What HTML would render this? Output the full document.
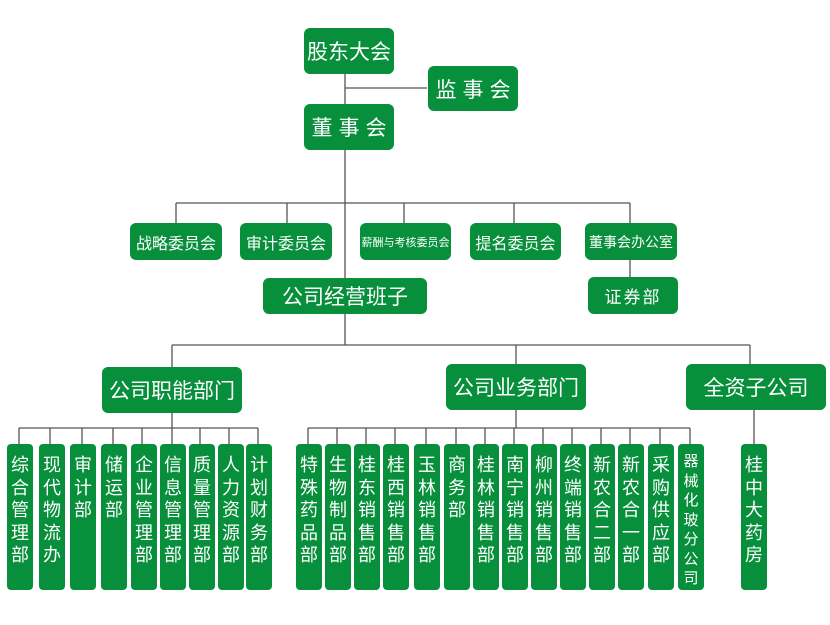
<!DOCTYPE html>
<html><head><meta charset="utf-8"><style>
body{margin:0;width:830px;height:625px;background:#fff;position:relative;overflow:hidden;font-family:"Liberation Sans","Noto Sans CJK SC",sans-serif;}
.b{position:absolute;background:#078f3b;color:#fff;border-radius:6px;display:flex;align-items:center;justify-content:center;white-space:nowrap;}
.v{position:absolute;background:#078f3b;color:#fff;border-radius:4px;top:444px;height:146px;width:26px;font-size:18px;line-height:22.5px;text-align:center;padding-top:10px;box-sizing:border-box;}
svg{position:absolute;left:0;top:0;}
</style></head><body>
<svg width="830" height="625" stroke="#555" stroke-width="1.3" fill="none">
<path d="M345 73V345M345 88H427M176 203H630M176 203V223M287 203V223M404 203V223M514 203V223M630 203V277M172 345H750M172 345V367M516 345V366M750 345V366"/>
<path d="M172 413V428M19 428H258M19 428V444M50 428V444M82 428V444M113 428V444M142 428V444M172 428V444M200 428V444M229 428V444M258 428V444"/>
<path d="M516 410V428M308 428H690M308 428V444M337 428V444M366 428V444M395 428V444M426 428V444M456 428V444M485 428V444M514 428V444M543 428V444M572 428V444M601 428V444M630 428V444M660 428V444M690 428V444M754 410V444"/>
</svg>
<div class="b" style="left:304px;top:28px;width:90px;height:46px;font-size:21px">股东大会</div>
<div class="b" style="left:428px;top:66px;width:90px;height:45px;font-size:21px;letter-spacing:6px;padding-left:6px;box-sizing:border-box">监事会</div>
<div class="b" style="left:304px;top:104px;width:90px;height:46px;font-size:21px;letter-spacing:6px;padding-left:6px;box-sizing:border-box">董事会</div>
<div class="b" style="left:130px;top:223px;width:92px;height:37px;font-size:16px">战略委员会</div>
<div class="b" style="left:240px;top:223px;width:92px;height:37px;font-size:16px">审计委员会</div>
<div class="b" style="left:360px;top:223px;width:91px;height:37px;font-size:11px">薪酬与考核委员会</div>
<div class="b" style="left:470px;top:223px;width:91px;height:37px;font-size:16px">提名委员会</div>
<div class="b" style="left:585px;top:223px;width:92px;height:37px;font-size:14px">董事会办公室</div>
<div class="b" style="left:588px;top:277px;width:90px;height:37px;font-size:17px;letter-spacing:2px">证券部</div>
<div class="b" style="left:263px;top:278px;width:164px;height:36px;font-size:21px">公司经营班子</div>
<div class="b" style="left:102px;top:367px;width:140px;height:46px;font-size:21px">公司职能部门</div>
<div class="b" style="left:446px;top:364px;width:140px;height:46px;font-size:21px">公司业务部门</div>
<div class="b" style="left:686px;top:364px;width:140px;height:46px;font-size:21px">全资子公司</div>
<div class="v" style="left:7px">综合管理部</div>
<div class="v" style="left:39px">现代物流办</div>
<div class="v" style="left:70px">审计部</div>
<div class="v" style="left:101px">储运部</div>
<div class="v" style="left:131px">企业管理部</div>
<div class="v" style="left:160px">信息管理部</div>
<div class="v" style="left:189px">质量管理部</div>
<div class="v" style="left:218px">人力资源部</div>
<div class="v" style="left:246px">计划财务部</div>
<div class="v" style="left:296px">特殊药品部</div>
<div class="v" style="left:325px">生物制品部</div>
<div class="v" style="left:354px">桂东销售部</div>
<div class="v" style="left:383px">桂西销售部</div>
<div class="v" style="left:414px">玉林销售部</div>
<div class="v" style="left:444px">商务部</div>
<div class="v" style="left:473px">桂林销售部</div>
<div class="v" style="left:502px">南宁销售部</div>
<div class="v" style="left:531px">柳州销售部</div>
<div class="v" style="left:560px">终端销售部</div>
<div class="v" style="left:589px">新农合二部</div>
<div class="v" style="left:618px">新农合一部</div>
<div class="v" style="left:648px">采购供应部</div>
<div class="v" style="left:678px;font-size:15px;line-height:19.5px;padding-top:8px">器械化玻分公司</div>
<div class="v" style="left:741px">桂中大药房</div>
</body></html>
